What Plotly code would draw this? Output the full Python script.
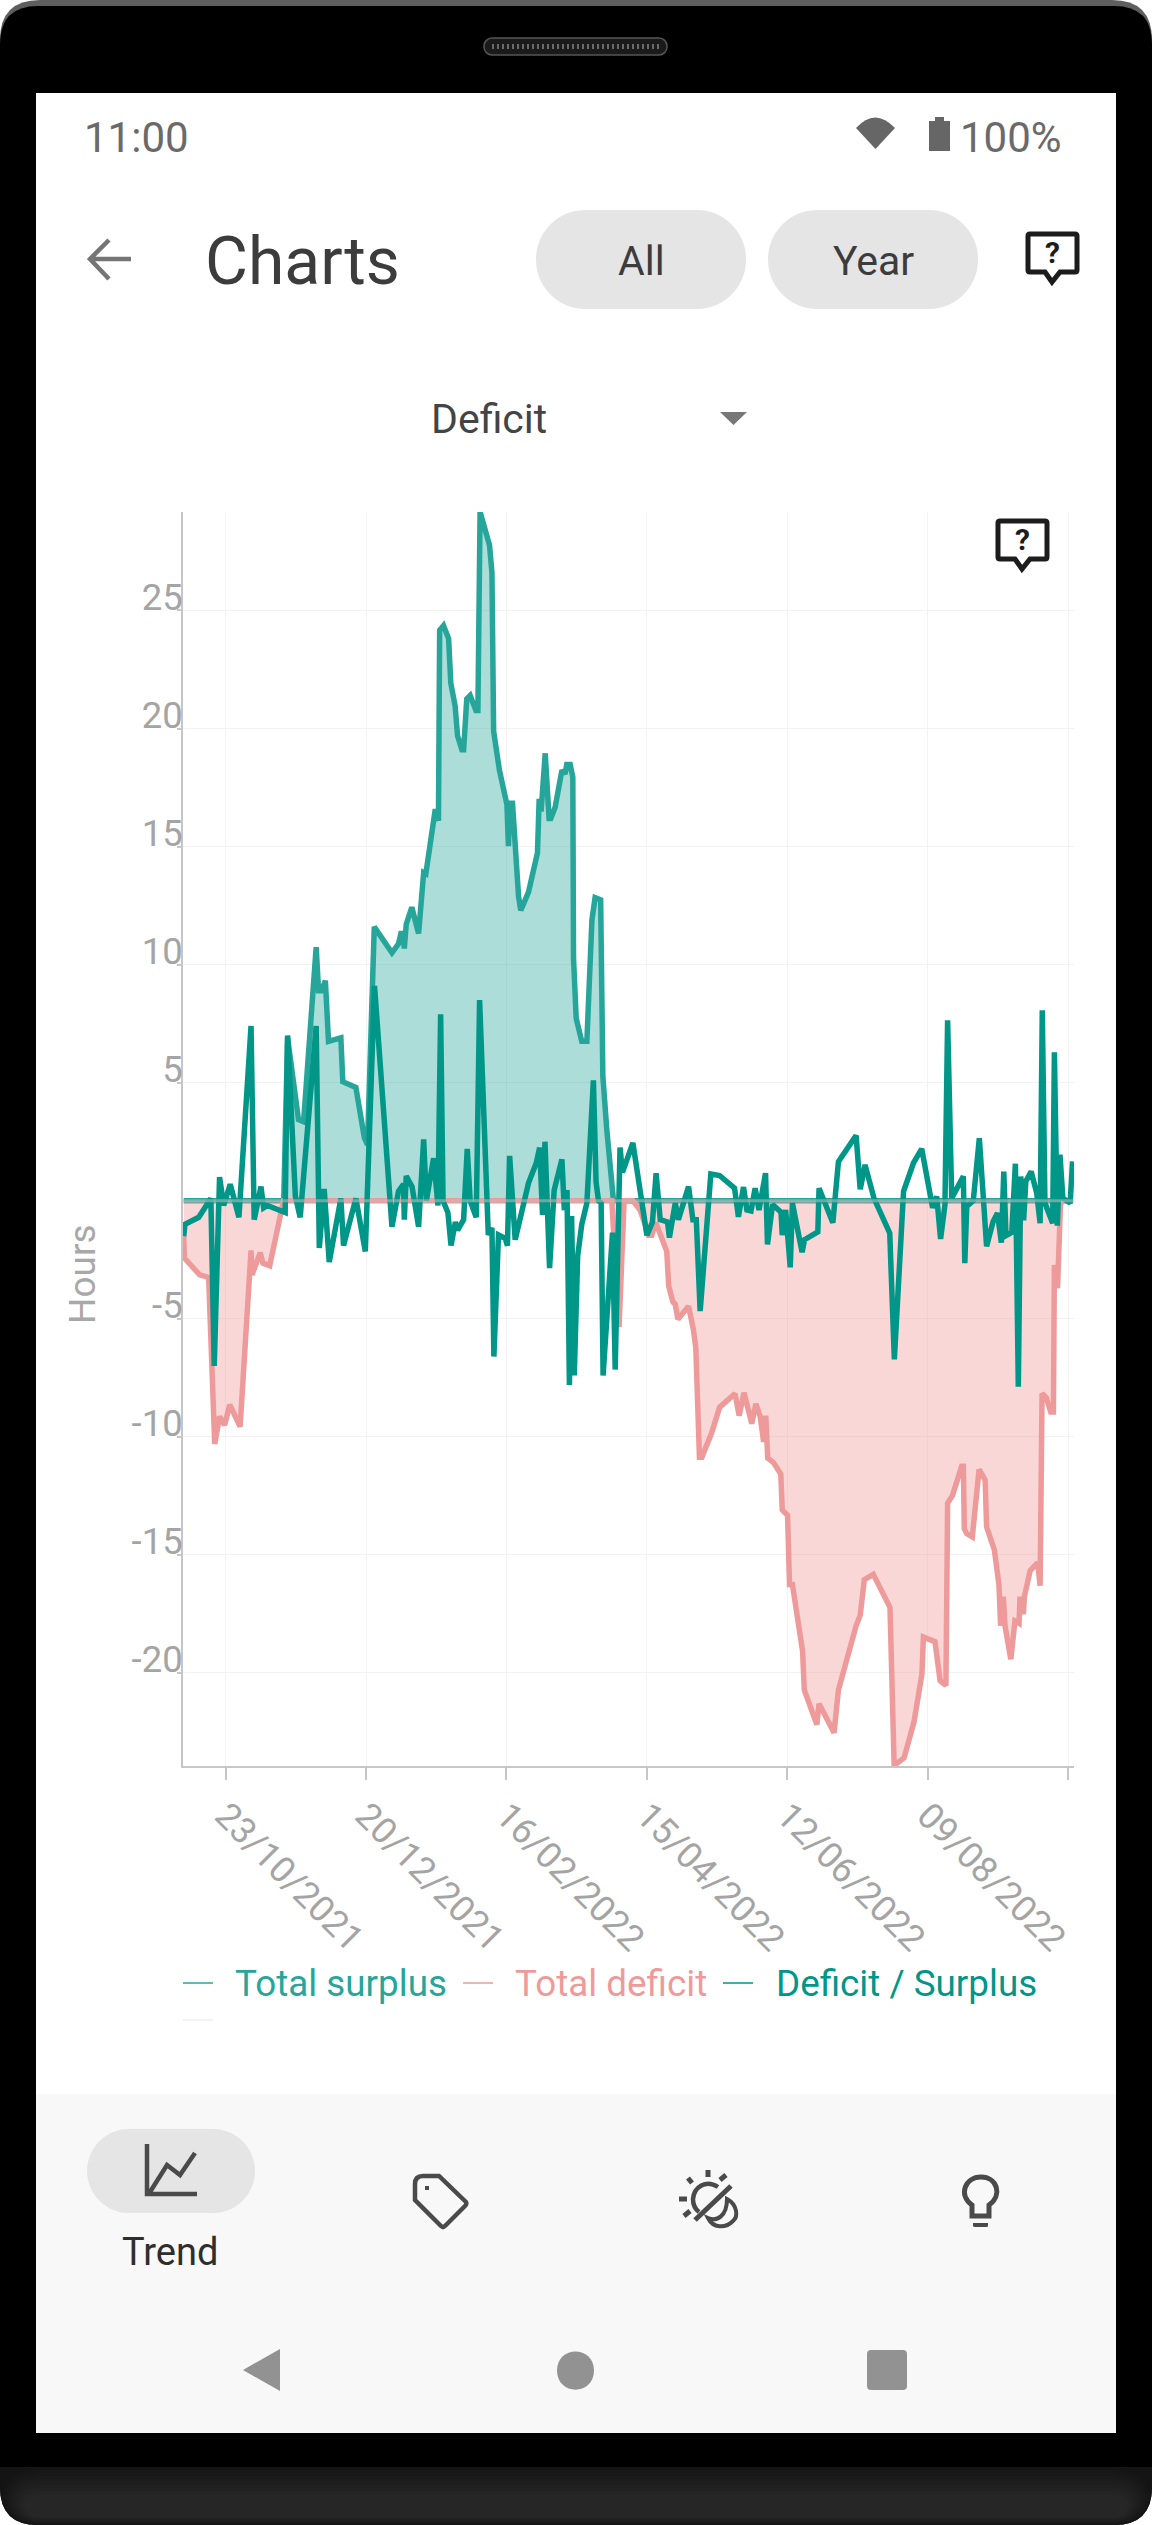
"""Deficit / surplus trend chart inside a phone screenshot (plotly)."""

import re

import pandas as pd
import plotly.graph_objects as go

WIDTH, HEIGHT = 1152, 2525

START_DATE = pd.Timestamp("2021-10-23")
X_RANGE_DAYS = [-17.6, 350.4]
Y_RANGE = [-23.94, 29.17]
TICK_DAYS = 58
Y_TICKS = [-20, -15, -10, -5, 5, 10, 15, 20, 25]
Y_TICK_LABELS = ["-20", "-15", "-10", "-5", "5", "10", "15", "20", "25"]

SERIES_NAMES = ["Total surplus", "Total deficit", "Deficit / Surplus"]

surplus_days = [
    -17.3, 24, 25.6, 28.8, 30.1, 32.2, 37.4, 38.4, 39.6, 41.2,
    42.5, 47.6, 48.4, 53.8, 57.3, 58.6, 61.4, 68.7, 71.4, 72.4,
    73.4, 73.8, 74.6, 76.9, 79.7, 81.8, 82.7, 86.6, 87.9, 88.4,
    90, 92.1, 93, 94.8, 95.8, 97.6, 98.3, 99.6, 101, 103.4,
    104.2, 105.1, 109, 110, 110.7, 113.1, 116.2, 116.8, 117.5, 118.5,
    119.3, 120.3, 121, 121.9, 125.1, 128.8, 129.5, 130.3, 132, 133.6,
    134.3, 136.1, 138.9, 140.2, 140.9, 142.3, 143.4, 143.7, 144.8, 147.1,
    149.2, 151.3, 152.6, 154.9, 155.8, 157.4, 159.5, 160.2, 350,
]
surplus_hours = [
    0, 0, 6.9, 4.2, 3.44, 3.35, 10.74, 8.89, 8.89, 9.32,
    6.75, 6.9, 5.04, 4.8, 2.67, 2.37, 11.6, 10.5, 10.88, 11.32,
    11.32, 10.68, 11.71, 12.43, 11.32, 13.9, 13.85, 16.58, 16.09, 24.16,
    24.36, 23.81, 21.93, 20.95, 19.69, 19.1, 19.1, 21.25, 21.4, 20.76,
    20.76, 29.17, 27.76, 26.6, 19.88, 18.23, 16.77, 15.02, 16.83, 16.83,
    15.7, 13.75, 12.88, 12.3, 13.07, 14.73, 17.02, 16.48, 18.95, 16.19,
    16.19, 16.67, 18.23, 18.07, 18.48, 18.48, 17.94, 10.25, 7.72, 6.75,
    6.75, 11.9, 12.84, 12.74, 5.29, 3.05, 0.33, 0, 0,
]

deficit_days = [
    -17.3, -17, -10.7, -7, -4.5, -2.5, -0.4, 1.7, 6, 10.5,
    10.9, 14.3, 15.4, 18.2, 23.9, 159.5, 162.5, 164.6, 168.2, 171.2,
    174.7, 176, 177.7, 181.5, 182.2, 183, 184.7, 185.7, 186.8, 191.2,
    193.2, 194.2, 195.7, 196.7, 200.8, 204, 210.4, 212.1, 214.1, 217.3,
    219, 220.8, 222.2, 223.1, 223.9, 226.3, 229.3, 229.9, 232.1, 232.9,
    234.1, 238.3, 239, 244.2, 245.1, 251.3, 253.1, 260.4, 262.1, 263.8,
    267.5, 274.4, 276.1, 277.2, 280.2, 284.3, 287.6, 288.2, 293, 295.1,
    297.5, 298.2, 300.2, 304, 304.7, 305.1, 306.1, 308.4, 311.2, 313.7,
    314.3, 317.5, 318.5, 319.4, 320.1, 321.2, 321.9, 324.3, 326, 327.7,
    328.1, 329.5, 329.9, 332.3, 335.4, 336.4, 337.2, 338.9, 340.8, 341.9,
    342.3, 343.6, 344.8, 345.3, 350,
]
deficit_hours = [
    -1.5, -2.43, -3.14, -3.25, -10.3, -9.14, -9.5, -8.64, -9.56, -2.1,
    -3.14, -2.2, -2.64, -2.75, 0, 0, -5.35, 0, 0, -0.39,
    -1.46, -1.46, -0.93, -1.95, -2.14, -3.6, -4.28, -4.38, -5.02, -4.47,
    -5.45, -6.23, -10.86, -10.86, -9.82, -8.75, -8.17, -9.1, -8.13, -9.44,
    -8.6, -9.14, -10.21, -9.1, -10.9, -11.09, -11.58, -13.09, -13.33, -16.25,
    -16.25, -19.07, -20.72, -22.18, -21.3, -22.53, -20.72, -18, -17.55, -16.05,
    -15.82, -17.22, -23.83, -23.83, -23.6, -22.08, -20.04, -18.48, -18.68, -20.33,
    -20.53, -12.8, -12.49, -11.25, -11.25, -13.9, -14.1, -14.24, -11.38, -11.83,
    -13.81, -14.79, -15.86, -16.25, -18, -16.77, -18, -19.42, -17.8, -17.9,
    -16.77, -17.51, -16.77, -15.66, -15.33, -16.3, -8.17, -8.33, -8.95, -8.95,
    -2.72, -3.7, -0.2, 0, 0,
]

balance_days = [
    -17.3, -16.8, -11.1, -6.1, -4.7, -2.5, -0.8, 1.9, 5.5, 10.5,
    11.8, 14.6, 15.7, 17.3, 24.6, 25.6, 28.8, 30.8, 37.4, 38.7,
    40.7, 42.8, 47.6, 48.7, 53.8, 57.7, 61.5, 68.7, 71.4, 73.5,
    73.8, 74.6, 77, 79.7, 81.8, 82.9, 85.9, 87.7, 88.8, 89.8,
    91.8, 93.1, 94.9, 95.8, 98.3, 99.8, 101, 103.5, 104.9, 108.5,
    110, 110.8, 112.7, 115.5, 116.4, 117.3, 119.6, 122.4, 125.1, 128.3,
    129.7, 130.9, 131.9, 133.8, 135.7, 138.9, 139.9, 141, 142, 142.9,
    144, 145.4, 147.1, 149.2, 151.9, 153, 154, 155.1, 155.9, 159.8,
    160.9, 162.9, 163.9, 168.2, 174, 176.3, 177.8, 179.5, 182.5, 183.3,
    185.7, 187, 191.2, 193, 194.4, 196, 200.4, 204, 210.2, 211.8,
    213.9, 215.3, 217, 218.7, 220.3, 223, 223.8, 225.9, 229.4, 229.9,
    231.3, 233.2, 234.1, 238.1, 239.1, 244.6, 245.1, 250.8, 253.1, 260.4,
    262.1, 264.1, 267.8, 274.3, 276.2, 280, 284.1, 287.5, 292, 293.7,
    295.3, 297.1, 298.2, 299.9, 304.7, 305.3, 306.1, 308.8, 311.3, 314.3,
    317, 318.8, 320.4, 321.4, 322.3, 324.7, 326.2, 327.4, 328.4, 329.6,
    330.5, 332.7, 335, 336.4, 337.3, 338.4, 341.6, 342.3, 343.5, 344.6,
    345.8, 348.8, 349.8,
]
balance_hours = [
    -1.5, -1.0, -0.7, 0.1, -7.0, 1.0, -0.2, 0.7, -0.7, 7.4,
    -0.8, 0.6, -0.3, -0.2, -0.5, 7.0, 0.2, -0.7, 7.4, -2.0,
    0.5, -2.6, 0.1, -1.9, 0.1, -2.15, 9.1, -1.1, 0.4, 0.7,
    -0.8, 1.05, 0.6, -1.1, 2.6, 0, 1.8, -0.2, 7.9, 0,
    -0.5, -1.9, -0.9, -1.25, -0.8, 2.2, 0, -0.7, 8.5, -1.45,
    -1.15, -6.6, -1.45, -1.6, -1.9, 1.9, -1.65, -0.4, 0.75, 1.6,
    2.25, -0.6, 2.5, -2.85, 0.45, 1.75, -0.4, 0.45, -7.8, -0.65,
    -7.4, -2.35, -1.0, -0.1, 5.1, 0.8, 0, -0.1, -7.4, -1.35,
    -7.15, 2.25, 1.2, 2.45, -1.46, -0.9, 1.17, -0.8, -0.9, -1.56,
    -0.1, -0.8, 0.6, -0.8, -0.8, -4.67, 1.13, 1.07, 0.53, -0.68,
    0.58, -0.39, -0.43, 0.53, -0.39, 1.17, -1.85, -0.16, -0.49, -1.46,
    -0.39, -2.82, -0.1, -2.18, -1.65, -1.32, 0.53, -0.93, 1.65, 2.76,
    0.49, 1.52, 0.1, -1.37, -6.72, 0.4, 1.6, 2.2, -0.3, 0.18,
    -1.62, -0.17, 7.64, 0.11, 1.03, -2.64, -0.24, 0, 2.65, -1.93,
    -0.88, -0.52, -1.77, 1.24, -1.48, -1.34, 1.57, -7.88, 1.03, -0.83,
    0.82, 1.24, 0.32, -0.95, 8.07, -0.1, -0.95, 6.29, -1.06, 1.95,
    0.11, -0.1, 1.67,
]

zero_days = [-17.6, 350.4]
zero_hours = [0, 0]

SURPLUS_COLOR = "#26a69a"
DEFICIT_COLOR = "#ef9a9a"
BALANCE_COLOR = "#009688"
AXIS_COLOR = "#c6c6c6"
GRID_COLOR = "#f2f2f2"
TICK_TEXT = "#a4a4a4"
ICON_DARK = "#4a4a4a"
PILL = "#e5e5e5"
FONT = "Roboto"
LINE_WIDTH = 5.5


def to_dates(days):
    return START_DATE + pd.to_timedelta(days, unit="D")


def path(d):
    """Turn an SVG path written in screen pixels into paper coordinates."""
    numbers = iter(re.findall(r"-?\d+\.?\d*|[A-Za-z]", d))
    out = []
    for token in numbers:
        if token.isalpha():
            out.append(token)
        else:
            y = next(numbers)
            out.append(f"{float(token) / WIDTH:.6f},{1 - float(y) / HEIGHT:.6f}")
    return " ".join(out)


def rounded(x0, y0, x1, y1, r):
    return (
        f"M {x0} {y0 + r} Q {x0} {y0} {x0 + r} {y0} L {x1 - r} {y0} Q {x1} {y0} {x1} {y0 + r} "
        f"L {x1} {y1 - r} Q {x1} {y1} {x1 - r} {y1} L {x0 + r} {y1} Q {x0} {y1} {x0} {y1 - r} Z"
    )


def pill(x0, y0, x1, y1, r):
    k = r * 0.45
    return (
        f"M {x0} {y0 + r} C {x0} {y0 + k} {x0 + k} {y0} {x0 + r} {y0} L {x1 - r} {y0} "
        f"C {x1 - k} {y0} {x1} {y0 + k} {x1} {y0 + r} L {x1} {y1 - r} "
        f"C {x1} {y1 - k} {x1 - k} {y1} {x1 - r} {y1} L {x0 + r} {y1} "
        f"C {x0 + k} {y1} {x0} {y1 - k} {x0} {y1 - r} Z"
    )


shapes = []
labels = []


def shape(d, fill=None, line=None, width=0, layer="below", dash=None):
    shapes.append(dict(
        type="path", path=path(d), xref="paper", yref="paper", layer=layer,
        fillcolor=fill or "rgba(0,0,0,0)",
        line=dict(color=line or "rgba(0,0,0,0)", width=width, dash=dash or "solid"),
    ))


def label(x, y, text, size, color, anchor="left", weight=400, angle=0):
    labels.append(dict(
        x=x / WIDTH, y=1 - y / HEIGHT, xref="paper", yref="paper", text=text,
        showarrow=False, xanchor=anchor, yanchor="middle", textangle=angle, borderpad=0,
        font=dict(family=FONT, size=size, color=color, weight=weight),
    ))


def help_icon(dx, dy, layer="below"):
    shape(
        f"M {1030 + dx} {234 + dy} L {1075 + dx} {234 + dy} Q {1077 + dx} {234 + dy} {1077 + dx} {236 + dy} "
        f"L {1077 + dx} {270 + dy} Q {1077 + dx} {272 + dy} {1075 + dx} {272 + dy} L {1060 + dx} {272 + dy} "
        f"L {1052 + dx} {282 + dy} L {1045 + dx} {272 + dy} L {1030 + dx} {272 + dy} Q {1028 + dx} {272 + dy} "
        f"{1028 + dx} {270 + dy} L {1028 + dx} {236 + dy} Q {1028 + dx} {234 + dy} {1030 + dx} {234 + dy} Z",
        line="#1c1c1c", width=5, layer=layer,
    )
    label(1052.5 + dx, 253 + dy, "?", 30, "#1c1c1c", anchor="center", weight=700)


# phone body
shape(rounded(0, 0, 1152, 120, 40), fill="#5e5e5e")
shape(rounded(0, 6, 1152, 2525, 38), fill="#000000")
shape("M 0 2467 L 1152 2467 L 1152 2487 Q 1152 2525 1114 2525 L 38 2525 Q 0 2525 0 2487 Z", fill="#141414")
for step in range(1, 10):
    grey = 0x14 + step * 2
    shape(
        rounded(step * 2.5, 2467 + step * 3, 1152 - step * 2.5, 2525 - step * 0.8, 36 - step * 2),
        fill=f"#{grey:02x}{grey:02x}{grey:02x}",
    )
shape(pill(484, 38, 667, 55, 8), fill="#1a1a1a", line="#555555", width=1.5)
shape("M 492 46.5 L 660 46.5", line="#6a6a6a", width=5, dash="2px,3px")
shape("M 36 93 L 1116 93 L 1116 2433 L 36 2433 Z", fill="#ffffff")

# status bar
label(83, 137, "11:00", 42, "#6a6a6a")
label(1063, 137, "100%", 42, "#6a6a6a", anchor="right")
shape("M 856 128 Q 875 107 895 128 L 875.5 149 Z", fill="#666666")
shape("M 935 117 L 944 117 L 944 121 L 950 121 L 950 151 L 929 151 L 929 121 L 935 121 Z", fill="#666666")

# toolbar
shape("M 131 259 L 91 259 M 109 240 L 90 259 L 109 279", line="#757575", width=4.5)
label(204, 262, "Charts", 66, "#3c3c3c")
shape(pill(536, 210, 746, 309, 49), fill=PILL)
shape(pill(768, 210, 978, 309, 49), fill=PILL)
label(641, 261, "All", 41, "#3c3c3c", anchor="center")
label(873, 261, "Year", 41, "#3c3c3c", anchor="center")
help_icon(0, 0)
label(430, 419, "Deficit", 41, "#444444")
shape("M 720 412 L 747 412 L 733.5 425 Z", fill="#777777")

# bottom navigation
shape("M 36 2094 L 1116 2094 L 1116 2433 L 36 2433 Z", fill="#f8f8f8")
shape(pill(87, 2129, 255, 2213, 42), fill=PILL)
label(170, 2252, "Trend", 38, "#2e2e2e", anchor="center")
shape("M 147 2144 L 147 2194 L 197 2194 M 150 2192 L 167 2165 L 180 2175 L 195 2153", line=ICON_DARK, width=4.5)
shape("M 415 2184 Q 415 2176 423 2176 L 439 2176 L 466 2202 Q 467 2204 465 2206 L 445 2226 "
      "Q 443 2228 441 2226 L 415 2200 Z", line=ICON_DARK, width=4.5)
shape("M 426 2187 L 428 2187 L 428 2189 L 426 2189 Z", fill=ICON_DARK, line=ICON_DARK, width=2)
shape("M 708 2170 L 708 2177 M 679 2199 L 687 2199 M 688 2178 L 692 2183 M 720 2180 L 726 2175 "
      "M 684 2216 L 690 2211", line=ICON_DARK, width=5)
shape("M 718 2187 C 706 2179 694 2187 693 2199 C 693 2205 695 2209 699 2212", line=ICON_DARK, width=4.5)
shape("M 695 2220 L 731 2186", line=ICON_DARK, width=5)
shape("M 727 2199 C 738 2205 738 2217 733 2221 C 725 2229 713 2228 708 2218 C 717 2222 727 2216 727 2199 Z",
      line=ICON_DARK, width=4)
shape("M 972 2205 L 972 2216 L 989 2216 L 989 2205 C 1003 2195 997 2177 981 2177 C 965 2177 958 2195 972 2205 Z",
      line=ICON_DARK, width=5)
shape("M 973 2223 L 988 2223 L 988 2226 Q 988 2227 986 2227 L 975 2227 Q 973 2227 973 2226 Z", fill=ICON_DARK)
shape("M 280 2349 L 280 2391 L 243 2370 Z", fill="#929292")
shape("M 557 2370.5 C 557 2345 594 2345 594 2370.5 C 594 2396 557 2396 557 2370.5 Z", fill="#929292")
shape(rounded(867, 2350, 907, 2390, 4), fill="#929292")

# y axis title and the chart's own help icon
label(82, 1274, "Hours", 37, "#a8a8a8", anchor="center", angle=-90)
help_icon(-30, 287, layer="above")

# legend row
legend_rows = [(183, 234, SURPLUS_COLOR), (463, 514, DEFICIT_COLOR), (723, 775, BALANCE_COLOR)]
for name, (line_x, text_x, color) in zip(SERIES_NAMES, legend_rows):
    shape(f"M {line_x} 1983 L {line_x + 30} 1983", line=color, width=1.5)
    label(text_x, 1983, name, 36.8, color)
shape("M 183 2020 L 213 2020", line="#eeeeee", width=1.5)

fig = go.Figure()
fig.add_trace(go.Scatter(
    x=to_dates(surplus_days), y=surplus_hours, mode="lines", name=SERIES_NAMES[0],
    line=dict(color=SURPLUS_COLOR, width=LINE_WIDTH), fill="tozeroy", fillcolor="rgba(38,166,154,0.38)",
))
fig.add_trace(go.Scatter(
    x=to_dates(deficit_days), y=deficit_hours, mode="lines", name=SERIES_NAMES[1],
    line=dict(color=DEFICIT_COLOR, width=LINE_WIDTH), fill="tozeroy", fillcolor="rgba(239,154,154,0.4)",
))
fig.add_trace(go.Scatter(
    x=to_dates(balance_days), y=balance_hours, mode="lines", name=SERIES_NAMES[2],
    line=dict(color=BALANCE_COLOR, width=LINE_WIDTH),
))
fig.add_trace(go.Scatter(
    x=to_dates(zero_days), y=zero_hours, mode="lines", name="",
    line=dict(color="rgba(190,190,190,0.55)", width=3),
))

fig.update_layout(
    width=WIDTH, height=HEIGHT, margin=dict(l=0, r=0, t=0, b=0, pad=0),
    paper_bgcolor="#ffffff", plot_bgcolor="rgba(0,0,0,0)", showlegend=False,
    font=dict(family=FONT), shapes=shapes, annotations=labels,
    xaxis=dict(
        domain=[183 / WIDTH, 1074 / WIDTH], range=list(to_dates(X_RANGE_DAYS)), type="date",
        tick0=START_DATE, dtick=TICK_DAYS * 86400000, tickformat="%d/%m/%Y", tickangle=45,
        ticks="outside", ticklen=12, tickwidth=1.5, tickcolor=AXIS_COLOR,
        showline=True, linecolor=AXIS_COLOR, linewidth=2, showgrid=True, gridcolor=GRID_COLOR, gridwidth=1,
        zeroline=False, tickfont=dict(family=FONT, size=36, color=TICK_TEXT),
    ),
    yaxis=dict(
        domain=[1 - 1766 / HEIGHT, 1 - 512 / HEIGHT], range=Y_RANGE,
        tickvals=Y_TICKS, ticktext=Y_TICK_LABELS, ticklabelposition="outside top",
        ticks="outside", ticklen=4, tickwidth=1.5, tickcolor=AXIS_COLOR,
        ticklabelshift=13, ticklabelstandoff=-9,
        showline=True, linecolor=AXIS_COLOR, linewidth=2, showgrid=True, gridcolor=GRID_COLOR, gridwidth=1,
        zeroline=False, tickfont=dict(family=FONT, size=36.5, color=TICK_TEXT),
    ),
)

fig.write_html(
    "out.html",
    config={"displayModeBar": False},
    post_script="document.body.style.margin='0';",
)
